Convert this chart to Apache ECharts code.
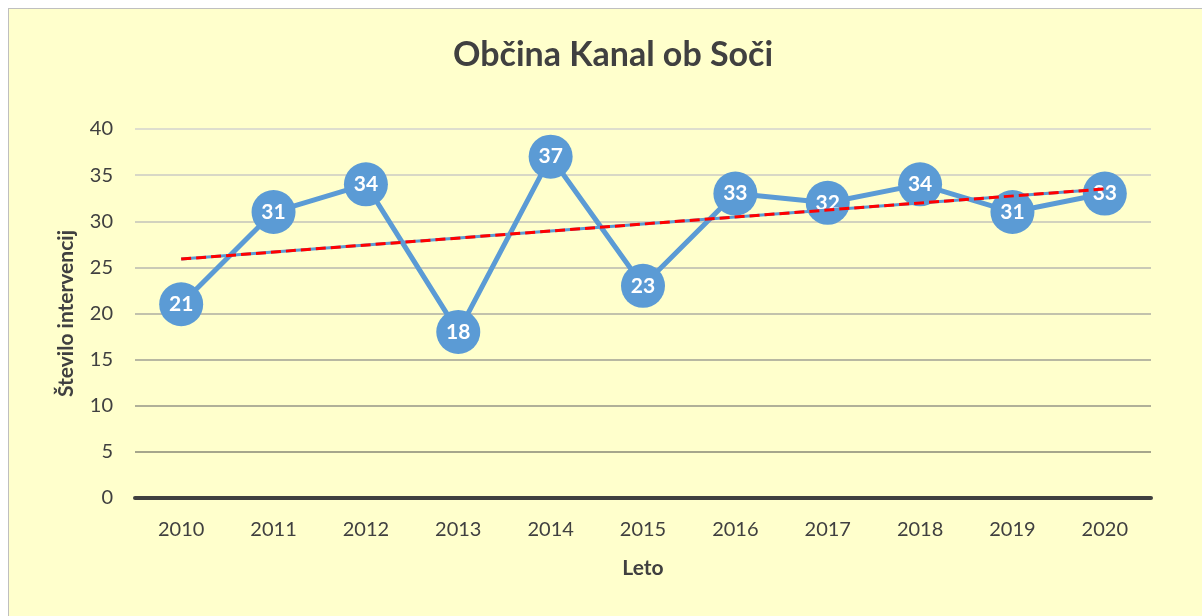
<!DOCTYPE html>
<html>
<head>
<meta charset="utf-8">
<script src="https://cdn.jsdelivr.net/npm/echarts@6/dist/echarts.min.js"></script>
<style>
  html, body { margin: 0; padding: 0; background: #ffffff; overflow: hidden; }
  #frame { position: absolute; left: 8px; top: 8px; width: 1210px; height: 620px;
           background: #ffffcc; border: 1px solid #bfbfbf; }
  #chart { position: absolute; left: 0; top: 0; width: 1202px; height: 616px; }
</style>
</head>
<body>
<div id="frame"></div>
<div id="chart"></div>
<script>
  // leta in stevilo intervencij
  const years = ['2010', '2011', '2012', '2013', '2014', '2015', '2016', '2017', '2018', '2019', '2020'];
  const interventions = [21, 31, 34, 18, 37, 23, 33, 32, 34, 31, 33];
  // linearni trend, konci odčitani s slike
  const trendStart = 25.9;
  const trendEnd = 33.5;
  const yTicks = { min: 0, max: 40, interval: 5 };

  const trendData = years.map((y, i) => {
    if (i === 0) return trendStart;
    if (i === years.length - 1) return trendEnd;
    return null;
  });

  const font = 'Lato, "Open Sans", sans-serif';
  let myChart = echarts.init(document.getElementById('chart'));
  myChart.setOption({
    backgroundColor: 'transparent',
    animation: false,
    title: {
      text: 'Občina Kanal ob Soči',
      left: 448,
      top: 33,
      textStyle: { fontFamily: font, fontSize: 34, fontWeight: 'bold', color: '#404040' }
    },
    grid: { left: 135, right: 51, top: 129, bottom: 118 },
    xAxis: {
      type: 'category',
      data: years,
      name: 'Leto',
      nameLocation: 'middle',
      nameGap: 60,
      nameTextStyle: { fontFamily: font, fontSize: 21, fontWeight: 'bold', color: '#404040' },
      axisLine: { lineStyle: { color: '#404040', width: 4 } },
      axisTick: { show: false },
      axisLabel: { margin: 22, fontFamily: font, fontSize: 20, color: '#404040' }
    },
    yAxis: {
      type: 'value',
      min: yTicks.min,
      max: yTicks.max,
      interval: yTicks.interval,
      name: 'Število intervencij',
      nameLocation: 'middle',
      nameGap: 58,
      nameRotate: 90,
      nameTextStyle: { fontFamily: font, fontSize: 21, fontWeight: 'bold', color: '#404040' },
      axisLine: { show: false },
      axisTick: { show: false },
      axisLabel: { margin: 22, fontFamily: font, fontSize: 20, color: '#404040' },
      splitLine: {
        lineStyle: {
          width: 2,
          color: ['#404040', '#a6a68c', '#b0b098', '#b8b8a2', '#c2c2ac', '#cacab6', '#d2d2be', '#d8d8c6', '#dedece']
        }
      }
    },
    series: [
      {
        name: 'Intervencije',
        type: 'line',
        data: interventions,
        symbol: 'circle',
        symbolSize: 44,
        lineStyle: { color: '#5b9bd5', width: 5 },
        itemStyle: { color: '#5b9bd5' },
        label: {
          show: true,
          position: 'inside',
          fontFamily: font,
          fontSize: 21,
          fontWeight: 'bold',
          color: '#ffffff'
        },
        z: 2
      },
      {
        name: 'Trend podlaga',
        type: 'line',
        data: trendData,
        connectNulls: true,
        showSymbol: false,
        lineStyle: { color: '#5b9bd5', width: 3 },
        z: 3
      },
      {
        name: 'Trend',
        type: 'line',
        data: trendData,
        connectNulls: true,
        showSymbol: false,
        lineStyle: { color: '#ff0000', width: 3, type: [10, 5] },
        z: 4
      }
    ]
  });
</script>
</body>
</html>
